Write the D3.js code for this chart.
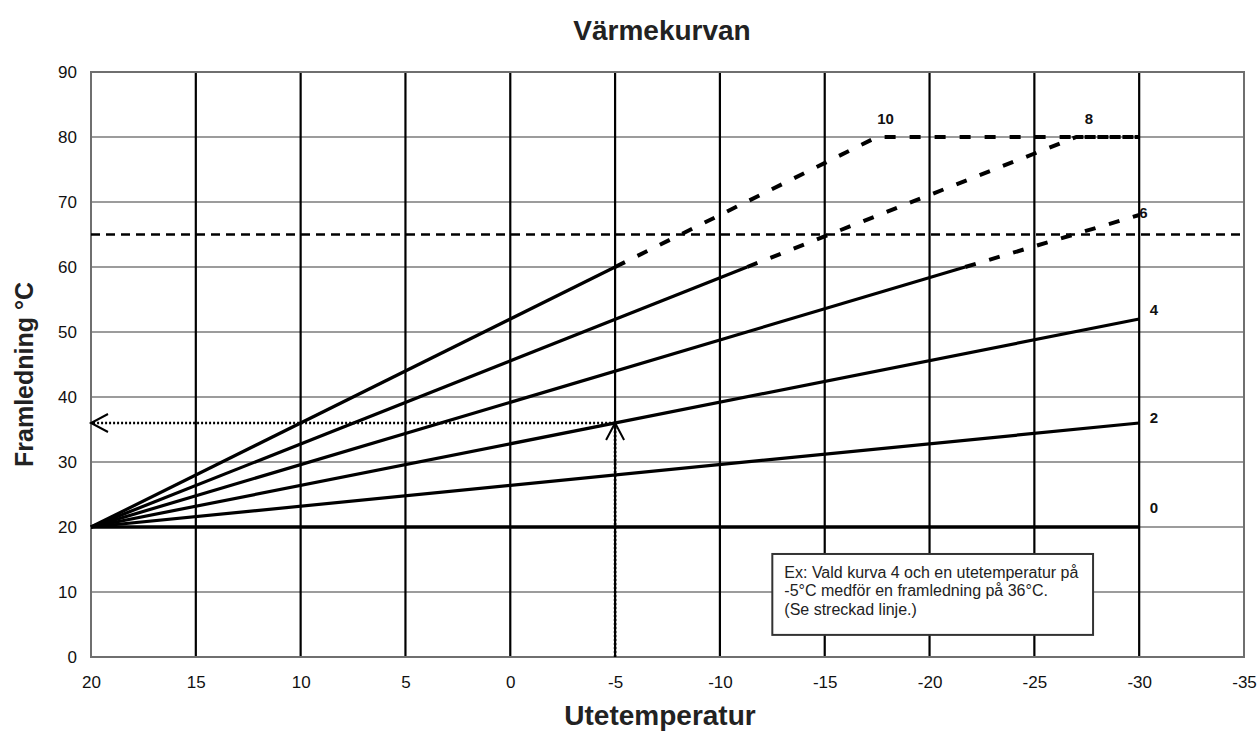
<!DOCTYPE html>
<html>
<head>
<meta charset="utf-8">
<script src="https://cdn.jsdelivr.net/npm/d3@7"></script>
<style>
  body { margin: 0; background: #fff; }
  svg { display: block; font-family: "Liberation Sans", Arial, sans-serif; }
</style>
</head>
<body>
<div id="viz"></div>
<script>
// axis ticks
const xTicks = [20, 15, 10, 5, 0, -5, -10, -15, -20, -25, -30, -35];
const yTicks = [0, 10, 20, 30, 40, 50, 60, 70, 80, 90];

// heating curves: solid part, dashed part (above 60 °C), label anchor
const curveNames = ["0", "2", "4", "6", "8", "10"];
const curveSolid = [
  [[20, 20], [-30, 20]],
  [[20, 20], [-30, 36]],
  [[20, 20], [-30, 52]],
  [[20, 20], [-21.7, 60]],
  [[20, 20], [-11.3, 60]],
  [[20, 20], [-5, 60]],
];
const curveDashed = [
  [],
  [],
  [],
  [[-21.7, 60], [-30, 68]],
  [[-11.3, 60], [-27, 80], [-30, 80]],
  [[-5, 60], [-17.5, 80], [-30, 80]],
];
const labelAt = [[-30.5, 22.2], [-30.5, 36], [-30.5, 52.6], [-30, 67.5], [-27.4, 82], [-17.5, 82]];

// max limit line and worked example
const limitLevel = 65;
const exampleOut = -5;
const exampleFlow = 36;
const noteLines = [
  "Ex: Vald kurva 4 och en utetemperatur på",
  "-5°C medför en framledning på 36°C.",
  "(Se streckad linje.)",
];
const noteCorners = [[-12.5, 15.85], [-27.8, 3.4]];

const width = 1259, height = 733;
const x = d3.scaleLinear().domain([20, -35]).range([91, 1244]);
const y = d3.scaleLinear().domain([0, 90]).range([657, 72]);

const svg = d3.select("#viz").append("svg")
  .attr("width", width)
  .attr("height", height);

// grid
svg.append("g").selectAll("line")
  .data(yTicks.slice(1, -1))
  .join("line")
  .attr("x1", x(20)).attr("x2", x(-35))
  .attr("y1", (d) => y(d)).attr("y2", (d) => y(d))
  .attr("stroke", "#3a3a3a")
  .attr("stroke-width", 1.2);

svg.append("g").selectAll("line")
  .data(xTicks.slice(1, -1))
  .join("line")
  .attr("x1", (d) => x(d)).attr("x2", (d) => x(d))
  .attr("y1", y(0)).attr("y2", y(90))
  .attr("stroke", "#000")
  .attr("stroke-width", 2.2);

svg.append("rect")
  .attr("x", x(20)).attr("y", y(90))
  .attr("width", x(-35) - x(20))
  .attr("height", y(0) - y(90))
  .attr("fill", "none")
  .attr("stroke", "#6f6f6f")
  .attr("stroke-width", 2);

// axes (labels only)
const xAxis = svg.append("g")
  .attr("transform", `translate(0,${y(0)})`)
  .call(d3.axisBottom(x).tickValues(xTicks).tickSize(0).tickPadding(19).tickFormat((d) => d));
const yAxis = svg.append("g")
  .attr("transform", `translate(${x(20)},0)`)
  .call(d3.axisLeft(y).tickValues(yTicks).tickSize(0).tickPadding(14));
[xAxis, yAxis].forEach((g) => {
  g.select(".domain").remove();
  g.selectAll("text")
    .attr("font-size", 17)
    .attr("font-family", "Liberation Sans, Arial, sans-serif")
    .attr("fill", "#111");
});

// limit line 65
svg.append("line")
  .attr("x1", x(20)).attr("x2", x(-35))
  .attr("y1", y(limitLevel)).attr("y2", y(limitLevel))
  .attr("stroke", "#000")
  .attr("stroke-width", 2.4)
  .attr("stroke-dasharray", "9,6");

// curves
const line = d3.line().x((d) => x(d[0])).y((d) => y(d[1]));
svg.append("g").selectAll("path")
  .data(curveSolid)
  .join("path")
  .attr("d", line)
  .attr("fill", "none")
  .attr("stroke", "#000")
  .attr("stroke-width", (d, i) => (i === 0 ? 3.6 : 3.2));

svg.append("g").selectAll("path")
  .data(curveDashed.filter((d) => d.length))
  .join("path")
  .attr("d", line)
  .attr("fill", "none")
  .attr("stroke", "#000")
  .attr("stroke-width", 4)
  .attr("stroke-dasharray", "11,14");

svg.append("g").selectAll("text")
  .data(curveNames)
  .join("text")
  .attr("x", (d, i) => x(labelAt[i][0]))
  .attr("y", (d, i) => y(labelAt[i][1]))
  .attr("font-size", 15)
  .attr("font-weight", "bold")
  .attr("fill", "#111")
  .text((d) => d);

// example: dotted lines with open arrow heads
svg.append("defs").append("marker")
  .attr("id", "chev")
  .attr("markerUnits", "userSpaceOnUse")
  .attr("viewBox", "-20 -12 24 24")
  .attr("markerWidth", 24).attr("markerHeight", 24)
  .attr("refX", 0).attr("refY", 0)
  .attr("orient", "auto")
  .append("path")
  .attr("d", "M-17,-9L0,0L-17,9")
  .attr("fill", "none")
  .attr("stroke", "#000")
  .attr("stroke-width", 2);

const guides = [
  [[exampleOut, 0], [exampleOut, exampleFlow]],
  [[exampleOut, exampleFlow], [20, exampleFlow]],
];
svg.append("g").selectAll("path")
  .data(guides)
  .join("path")
  .attr("d", line)
  .attr("fill", "none")
  .attr("stroke", "#000")
  .attr("stroke-width", 2.6)
  .attr("stroke-dasharray", "2,2")
  .attr("marker-end", "url(#chev)");

// note box
const note = svg.append("g");
note.append("rect")
  .attr("x", x(noteCorners[0][0]))
  .attr("y", y(noteCorners[0][1]))
  .attr("width", x(noteCorners[1][0]) - x(noteCorners[0][0]))
  .attr("height", y(noteCorners[1][1]) - y(noteCorners[0][1]))
  .attr("fill", "#fff")
  .attr("stroke", "#333")
  .attr("stroke-width", 2);
note.selectAll("text")
  .data(noteLines)
  .join("text")
  .attr("x", x(noteCorners[0][0]) + 12)
  .attr("y", (d, i) => y(noteCorners[0][1]) + 24 + i * 18.5)
  .attr("font-size", 16)
  .attr("fill", "#222")
  .text((d) => d);

// titles
svg.append("text")
  .attr("x", 662).attr("y", 40)
  .attr("text-anchor", "middle")
  .attr("font-size", 28)
  .attr("font-weight", "bold")
  .attr("fill", "#222")
  .text("Värmekurvan");
svg.append("text")
  .attr("x", 660).attr("y", 725)
  .attr("text-anchor", "middle")
  .attr("font-size", 28)
  .attr("font-weight", "bold")
  .attr("fill", "#222")
  .text("Utetemperatur");
svg.append("text")
  .attr("transform", `translate(33,${(y(0) + y(90)) / 2 + 10}) rotate(-90)`)
  .attr("text-anchor", "middle")
  .attr("font-size", 25)
  .attr("font-weight", "bold")
  .attr("fill", "#222")
  .text("Framledning °C");
</script>
</body>
</html>
